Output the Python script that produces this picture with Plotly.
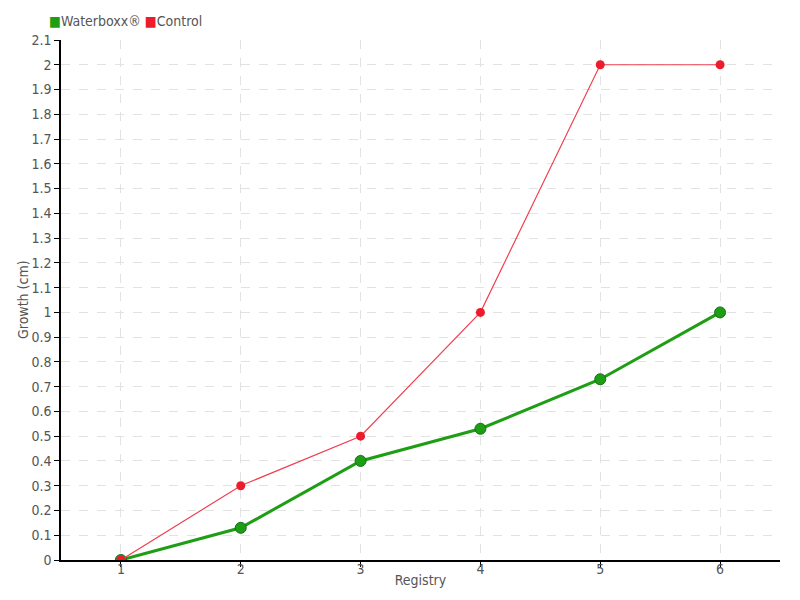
import plotly.graph_objects as go

registry = [1, 2, 3, 4, 5, 6]
waterboxx = [0, 0.13, 0.4, 0.53, 0.73, 1.0]
control = [0, 0.3, 0.5, 1.0, 2.0, 2.0]

GREEN = '#1e9e14'
RED = '#ec1c2c'
FONT = 'DejaVu Sans Condensed, Liberation Sans, sans-serif'

fig = go.Figure()

fig.add_trace(go.Scatter(
    x=registry, y=waterboxx, mode='lines+markers', name='Waterboxx®',
    line=dict(color=GREEN, width=3),
    marker=dict(size=11, color=GREEN, line=dict(color='#17701a', width=1)),
    showlegend=False,
))
fig.add_trace(go.Scatter(
    x=registry, y=control, mode='lines+markers', name='Control',
    line=dict(color='#f04050', width=1.2),
    marker=dict(size=9, color=RED),
    showlegend=False,
))

# legend drawn as a single text line with coloured squares
legend_text = (f"<span style='color:{GREEN}'>■</span>Waterboxx® "
               f"<span style='color:{RED}'>■</span>Control")
fig.add_annotation(
    text=legend_text, xref='paper', yref='paper', x=-0.02, y=1.0,
    xanchor='left', yanchor='bottom', yshift=9, showarrow=False,
    font=dict(size=14, color='#555555'),
)

# y axis title placed close to the tick labels
fig.add_annotation(
    text='Growth (cm)', xref='paper', yref='paper', x=0, y=0.5,
    xanchor='center', yanchor='middle', xshift=-38, textangle=-90,
    showarrow=False, font=dict(size=14, color='#555555'),
)

fig.update_layout(
    width=800, height=600,
    margin=dict(l=53, r=28, t=32, b=48, autoexpand=False),
    paper_bgcolor='white', plot_bgcolor='white',
    font=dict(family=FONT, size=14, color='#555555'),
    showlegend=False,
)
fig.update_xaxes(
    range=[0.5, 6.5], tickvals=registry, ticks='outside', ticklen=5, tickcolor='black',
    ticklabelstandoff=-10,
    showline=True, linecolor='black', linewidth=1.5,
    showgrid=True, gridcolor='#e2e2e2', griddash='dash', zeroline=False,
    title=dict(text='Registry', standoff=0, font=dict(size=14)),
)
fig.update_yaxes(
    range=[0, 2.1], dtick=0.1, tick0=0, ticks='outside', ticklen=5, tickcolor='black',
    showline=True, linecolor='black', linewidth=1.5,
    showgrid=True, gridcolor='#e2e2e2', griddash='dash', zeroline=False,
)

fig.write_html('out.html')
